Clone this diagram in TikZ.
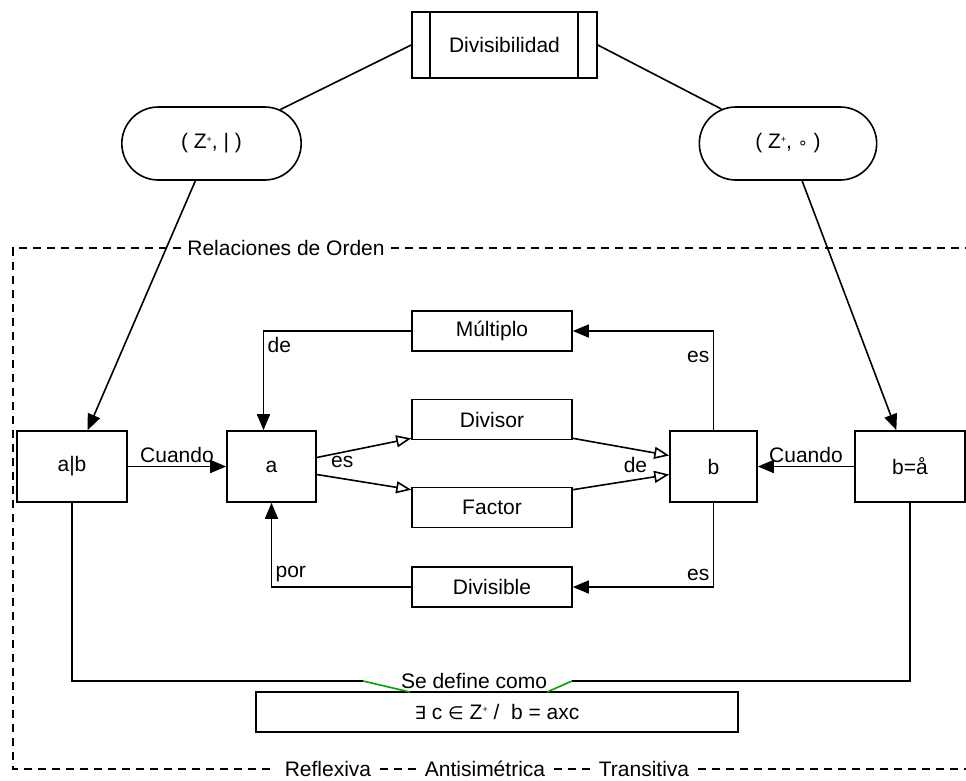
\documentclass[tikz,border=0pt]{standalone}
\usepackage{fontspec}
\setmainfont{Liberation Sans}
\newfontfamily\symfont{DejaVu Sans}
\usetikzlibrary{arrows.meta,shapes.misc}
\newcommand{\zp}{Z\raisebox{0.6ex}{\fontsize{9}{9}\selectfont +}}

\begin{document}
\begin{tikzpicture}[
    x=1pt, y=-1pt,
    every node/.style={font=\fontsize{21}{25}\selectfont},
    box/.style={rectangle, draw, line width=1.6pt, minimum width=160pt, minimum height=40pt, inner sep=0pt},
    bigbox/.style={rectangle, draw, line width=1.6pt, minimum height=71pt, inner sep=0pt},
    pill/.style={rounded rectangle, draw, line width=1.6pt, minimum width=186pt, minimum height=73pt},
    line/.style={line width=1.6pt},
    arrow/.style={line, -{Triangle[length=16pt,width=13pt]}},
    openarrow/.style={line, -{Triangle[open,length=15pt,width=12pt]}},
    frame/.style={line width=1.3pt, dash pattern=on 8pt off 6pt},
    gap/.style={inner sep=9pt}
]
\useasboundingbox (0,0) rectangle (966,780);

% top
\node[rectangle, draw, line width=1.6pt, minimum width=185pt, minimum height=66pt] (div) at (504.5,45) {Divisibilidad};
\draw[line] ([xshift=19pt]div.north west) -- ([xshift=19pt]div.south west);
\draw[line] ([xshift=-20pt]div.north east) -- ([xshift=-20pt]div.south east);
\node[pill] (zl) at (211.5,143.5) {( \zp, | )};
\node[pill, minimum width=184pt] (zr) at (788,143.5) {( \zp, {\symfont\fontsize{16}{16}\selectfont ∘} )};

% order relation frame
\node[gap, inner sep=6pt] (rel) at (286,248) {Relaciones de Orden};
\node[gap] (refl) at (328,769) {Reflexiva};
\node[gap] (anti) at (485,769) {Antisimétrica};
\node[gap] (trans) at (644,769) {Transitiva};
\coordinate (tl) at (13,248);
\coordinate (bl) at (13,769);
\coordinate (tr) at (975,248);
\coordinate (br) at (975,769);
\draw[frame] (rel.west) -- (tl) -- (bl) -- (refl.west);
\draw[frame] (refl.east) -- (anti.west);
\draw[frame] (anti.east) -- (trans.west);
\draw[frame] (trans.east) -- (br);
\draw[frame] (rel.east) -- (tr);

% boxes
\node[bigbox, minimum width=110pt] (ab) at (72,466.5) {a|b};
\node[bigbox, minimum width=89pt] (a) at (271.5,466.5) {a};
\node[bigbox, minimum width=87pt] (b) at (713.5,466.5) {b};
\node[bigbox, minimum width=110pt] (bb) at (910,466.5) {b=å};
\node[box] (mu) at (492,331) {Múltiplo};
\node[box] (dv) at (492,419.5) {Divisor};
\node[box] (fc) at (492,507.5) {Factor};
\node[box] (dvb) at (492,587) {Divisible};
\node[box, minimum width=482pt] (fx) at (497,712) {{\symfont\fontsize{18}{18}\selectfont ∃} c {\symfont\fontsize{18}{18}\selectfont ∈} \zp{} /\ \ b = axc};

\draw[line] (div.west) -- (zl);
\draw[line] (div.east) -- (zr);
\draw[arrow] (zl) -- (ab);
\draw[arrow] (zr) -- (bb);
\draw[arrow] (ab) -- node[above] {Cuando} (a);
\draw[arrow] (bb) -- node[above] {Cuando} (b);
\draw[openarrow] ([yshift=9pt]a.east) -- node[pos=0.27, below] {es} ([yshift=2pt]dv.south west);
\draw[openarrow] ([yshift=-8pt]a.east) -- ([yshift=-3pt]fc.north west);
\draw[openarrow] ([yshift=2pt]dv.south east) -- node[pos=0.65, below=4pt] {de} ([yshift=11pt]b.west);
\draw[openarrow] ([yshift=-3pt]fc.north east) -- ([yshift=-8pt]b.west);
\draw[arrow] (b.north) |- node[pos=0.37, left] {es} (mu.east);
\draw[arrow] (mu.west) -| node[pos=0.57, right] {de} ([xshift=-8pt]a.north);
\draw[arrow] (b.south) |- node[pos=0.43, left] {es} (dvb.east);
\draw[arrow] (dvb.west) -| node[pos=0.58, right] {por} (a.south);

% definition
\coordinate (gl1) at (363,681);
\coordinate (gl2) at (410,692);
\coordinate (gr1) at (572,681);
\coordinate (gr2) at (547,692);
\draw[line] (ab.south) |- (gl1);
\draw[line, green!65!black] (gl1) -- (gl2);
\draw[line] (bb.south) |- (gr1);
\draw[line, green!65!black] (gr1) -- (gr2);
\node (sdc) at (474,681) {Se define como};
\end{tikzpicture}
\end{document}
